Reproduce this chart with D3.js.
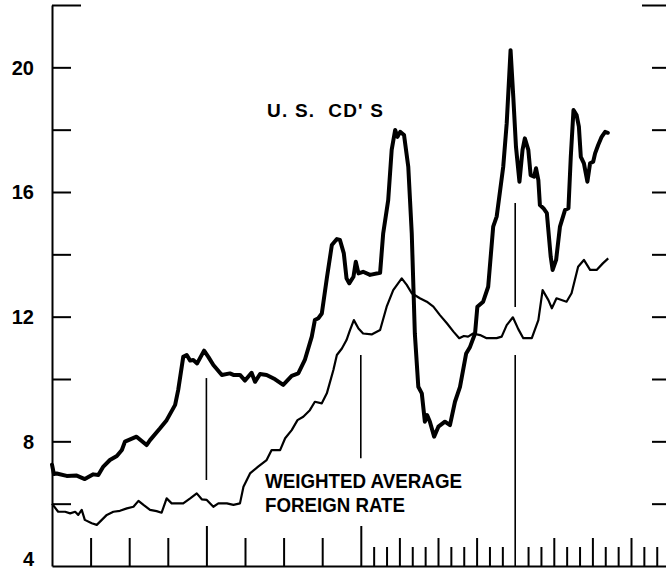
<!DOCTYPE html>
<html>
<head>
<meta charset="utf-8">
<script src="https://cdn.jsdelivr.net/npm/d3@7"></script>
<style>
  body { margin: 0; background: #fff; }
  svg { display: block; font-family: "Liberation Sans", Arial, sans-serif; }
  .axis path, .axis line { stroke: #000; stroke-width: 2px; }
</style>
</head>
<body>
<script>
//Time is in axis periods from the left edge of the frame
var cdPoints = [
    [0.00, 7.25], [0.05, 6.95], [0.12, 6.97], [0.38, 6.89], [0.64, 6.90], [0.85, 6.79],
    [1.07, 6.94], [1.20, 6.92], [1.33, 7.19], [1.50, 7.40], [1.68, 7.53], [1.81, 7.72],
    [1.89, 7.99], [2.19, 8.15], [2.45, 7.88], [2.54, 8.04], [2.80, 8.42], [2.97, 8.68],
    [3.19, 9.17], [3.27, 9.65], [3.40, 10.71], [3.49, 10.77], [3.58, 10.59], [3.66, 10.61],
    [3.76, 10.50], [3.94, 10.91], [4.05, 10.71], [4.18, 10.45], [4.40, 10.13], [4.61, 10.18],
    [4.70, 10.13], [4.87, 10.13], [5.00, 9.95], [5.17, 10.20], [5.26, 9.91], [5.39, 10.16],
    [5.56, 10.13], [5.78, 9.99], [5.99, 9.81], [6.21, 10.10], [6.38, 10.18], [6.55, 10.61],
    [6.73, 11.36], [6.81, 11.89], [6.90, 11.95], [6.99, 12.10], [7.12, 13.23], [7.25, 14.30],
    [7.38, 14.49], [7.46, 14.46], [7.56, 14.03], [7.63, 13.23], [7.70, 13.07], [7.81, 13.28],
    [7.87, 13.76], [7.94, 13.39], [8.06, 13.44], [8.24, 13.34], [8.50, 13.41], [8.58, 14.67],
    [8.71, 15.74], [8.80, 17.35], [8.89, 17.99], [8.95, 17.77], [9.02, 17.93], [9.12, 17.83],
    [9.23, 16.81], [9.32, 14.67], [9.40, 11.46], [9.49, 9.75], [9.58, 9.54], [9.66, 8.63],
    [9.72, 8.84], [9.79, 8.63], [9.90, 8.15], [10.01, 8.47], [10.18, 8.63], [10.31, 8.52],
    [10.44, 9.27], [10.57, 9.75], [10.73, 10.82], [10.83, 11.03], [10.96, 11.46], [11.02, 12.32],
    [11.17, 12.48], [11.30, 12.96], [11.43, 14.89], [11.52, 15.21], [11.69, 16.81], [11.78, 18.20],
    [11.88, 20.55], [11.95, 19.06], [12.02, 17.45], [12.11, 16.33], [12.19, 17.35], [12.25, 17.72],
    [12.34, 17.35], [12.40, 16.54], [12.49, 16.49], [12.54, 16.76], [12.60, 16.38], [12.64, 15.58],
    [12.73, 15.48], [12.82, 15.32], [12.92, 13.92], [12.97, 13.50], [13.06, 13.82], [13.16, 14.89],
    [13.29, 15.42], [13.38, 15.48], [13.44, 17.13], [13.51, 18.63], [13.59, 18.47], [13.65, 18.10],
    [13.70, 17.13], [13.78, 16.92], [13.87, 16.33], [13.94, 16.92], [14.02, 16.97], [14.07, 17.24],
    [14.15, 17.51], [14.24, 17.77], [14.33, 17.93], [14.40, 17.90]
];

var foreignPoints = [
    [0.00, 6.00], [0.16, 5.74], [0.34, 5.74], [0.47, 5.69], [0.60, 5.74], [0.68, 5.64],
    [0.77, 5.80], [0.85, 5.48], [1.03, 5.37], [1.16, 5.32], [1.29, 5.48], [1.42, 5.64],
    [1.59, 5.74], [1.76, 5.77], [1.94, 5.85], [2.11, 5.90], [2.24, 6.09], [2.37, 5.96],
    [2.54, 5.80], [2.71, 5.76], [2.84, 5.71], [2.97, 6.17], [3.10, 6.01], [3.27, 6.01],
    [3.40, 6.01], [3.58, 6.17], [3.75, 6.33], [3.88, 6.14], [4.01, 6.12], [4.18, 5.90],
    [4.31, 6.01], [4.53, 6.01], [4.70, 5.96], [4.87, 6.01], [4.96, 6.54], [5.13, 6.97],
    [5.34, 7.19], [5.56, 7.40], [5.69, 7.72], [5.91, 7.72], [6.04, 8.10], [6.21, 8.36],
    [6.36, 8.68], [6.51, 8.79], [6.68, 9.00], [6.81, 9.27], [6.99, 9.22], [7.12, 9.54],
    [7.29, 10.29], [7.38, 10.77], [7.51, 10.98], [7.63, 11.25], [7.72, 11.57], [7.82, 11.89],
    [7.94, 11.62], [8.06, 11.46], [8.28, 11.43], [8.50, 11.57], [8.67, 12.32], [8.84, 12.85],
    [9.06, 13.23], [9.19, 13.02], [9.32, 12.75], [9.53, 12.59], [9.71, 12.48], [9.88, 12.32],
    [10.05, 12.05], [10.23, 11.79], [10.40, 11.52], [10.55, 11.31], [10.67, 11.38], [10.78, 11.36],
    [10.91, 11.46], [11.09, 11.41], [11.26, 11.31], [11.52, 11.31], [11.65, 11.36], [11.78, 11.73],
    [11.94, 11.98], [12.08, 11.60], [12.21, 11.31], [12.43, 11.31], [12.60, 11.89], [12.71, 12.85],
    [12.86, 12.53], [12.95, 12.27], [13.07, 12.59], [13.33, 12.48], [13.46, 12.75], [13.63, 13.60],
    [13.78, 13.82], [13.94, 13.50], [14.11, 13.50], [14.27, 13.71], [14.41, 13.87]
];

//Value axis ticks and labels
var yTicks = [6, 8, 10, 12, 14, 16, 18, 20];
var yTopTick = [22];
var yLabels = [4, 8, 12, 16, 20];

//Time axis ticks
var xTicks = [1, 2, 3, 5, 6, 7, 9, 10, 11, 13, 14, 15];
var xLongTicks = [4, 8];
var xMinorTicks = [8.333, 8.667, 9.333, 9.667, 10.333, 10.667, 11.333, 11.667,
    12.333, 12.667, 13.333, 13.667, 14.333, 14.667, 15.333, 15.667];

//Vertical marker lines inside the frame: [time, from value, to value]
var markers = [[4, 10.03, 6.76], [8, 10.77, 7.46], [12, 15.65, 12.31], [12, 10.77, 4]];

var width = 666,
    height = 570,
    leftEdge = 52,
    rightEdge = 671,
    baseY = 566;

var svg = d3.select("body")
    .append("svg")
    .attr("width", width)
    .attr("height", height);

var x = d3.scaleLinear()
    .domain([0, 16])
    .range([leftEdge, leftEdge + 16 * 38.6]);

var y = d3.scaleLinear()
    .domain([4, 22])
    .range([baseY, 5]);

//Left and right value axes
svg.append("g")
    .attr("class", "axis")
    .attr("transform", "translate(" + leftEdge + ",0)")
    .call(d3.axisRight(y).tickValues(yTicks).tickSize(19).tickSizeOuter(0).tickFormat(""));

svg.append("g")
    .attr("class", "axis")
    .attr("transform", "translate(" + leftEdge + ",0)")
    .call(d3.axisRight(y).tickValues(yTopTick).tickSize(29).tickFormat(""))
    .select(".domain").remove();

svg.append("g")
    .attr("class", "axis")
    .attr("transform", "translate(" + rightEdge + ",0)")
    .call(d3.axisLeft(y).tickValues(yTicks).tickSize(19).tickSizeOuter(0).tickFormat(""));

svg.append("g")
    .attr("class", "axis")
    .attr("transform", "translate(" + rightEdge + ",0)")
    .call(d3.axisLeft(y).tickValues(yTopTick).tickSize(29).tickFormat(""))
    .select(".domain").remove();

//Time axis with three tick lengths
svg.append("g")
    .attr("class", "axis")
    .attr("transform", "translate(0," + baseY + ")")
    .call(d3.axisTop(x).tickValues(xTicks).tickSize(28).tickSizeOuter(0).tickFormat(""));

svg.append("g")
    .attr("class", "axis")
    .attr("transform", "translate(0," + baseY + ")")
    .call(d3.axisTop(x).tickValues(xLongTicks).tickSize(40).tickFormat(""))
    .select(".domain").remove();

svg.append("g")
    .attr("class", "axis")
    .attr("transform", "translate(0," + baseY + ")")
    .call(d3.axisTop(x).tickValues(xMinorTicks).tickSize(19).tickFormat(""))
    .select(".domain").remove();

//Marker lines
svg.selectAll(".marker")
    .data(markers)
    .enter()
    .append("line")
    .attr("class", "marker")
    .attr("x1", function(d){ return x(d[0]); })
    .attr("x2", function(d){ return x(d[0]); })
    .attr("y1", function(d){ return y(d[1]); })
    .attr("y2", function(d){ return y(d[2]); })
    .style("stroke", "#000")
    .style("stroke-width", 1.6);

//Value labels
svg.selectAll(".ylabel")
    .data(yLabels)
    .enter()
    .append("text")
    .attr("class", "ylabel")
    .attr("x", 34)
    .attr("y", function(d){ return d == 4 ? y(d) - 7 : y(d); })
    .attr("dy", "0.36em")
    .attr("text-anchor", "end")
    .style("font-size", "20px")
    .style("font-weight", "bold")
    .text(function(d){ return d; });

var line = d3.line()
    .x(function(d){ return x(d[0]); })
    .y(function(d){ return y(d[1]); });

svg.append("path")
    .datum(foreignPoints)
    .attr("d", line)
    .style("fill", "none")
    .style("stroke", "#000")
    .style("stroke-width", 2.2)
    .style("stroke-linejoin", "round");

svg.append("path")
    .datum(cdPoints)
    .attr("d", line)
    .style("fill", "none")
    .style("stroke", "#000")
    .style("stroke-width", 4)
    .style("stroke-linejoin", "round")
    .style("stroke-linecap", "round");

//Series labels
svg.append("text")
    .attr("x", 267)
    .attr("y", 117)
    .attr("textLength", 116)
    .attr("lengthAdjust", "spacing")
    .style("font-size", "19px")
    .style("font-weight", "bold")
    .style("white-space", "pre")
    .text("U. S.  CD' S");

svg.append("text")
    .attr("x", 265)
    .attr("y", 488)
    .attr("textLength", 197)
    .attr("lengthAdjust", "spacingAndGlyphs")
    .style("font-size", "20px")
    .style("font-weight", "bold")
    .text("WEIGHTED AVERAGE");

svg.append("text")
    .attr("x", 265)
    .attr("y", 512)
    .attr("textLength", 140)
    .attr("lengthAdjust", "spacingAndGlyphs")
    .style("font-size", "20px")
    .style("font-weight", "bold")
    .text("FOREIGN RATE");
</script>
</body>
</html>
